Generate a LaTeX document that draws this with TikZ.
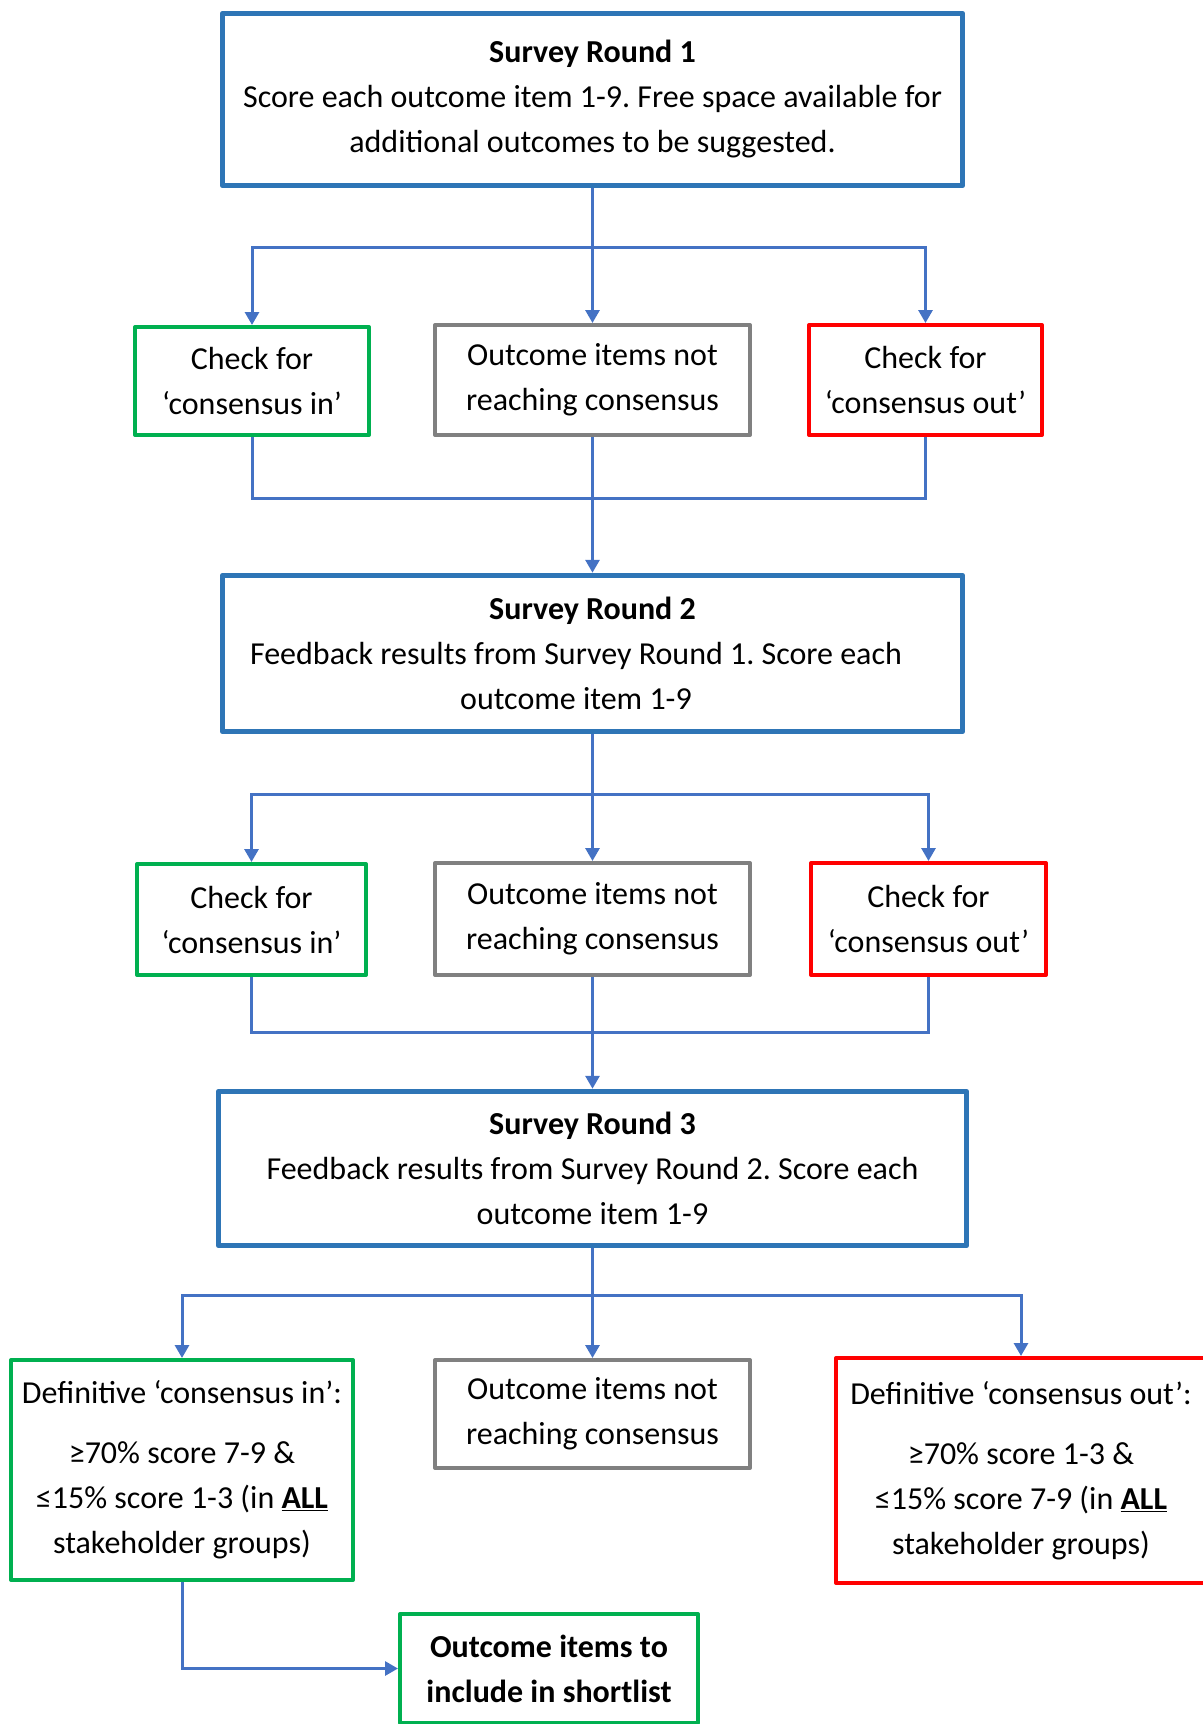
\documentclass[tikz,border=0pt]{standalone}
\usepackage{fontspec}
\setmainfont{Carlito}
\usetikzlibrary{arrows.meta}
\definecolor{roundblue}{HTML}{2E75B6}
\definecolor{connblue}{HTML}{4472C4}
\definecolor{okgreen}{HTML}{00B050}
\definecolor{nored}{HTML}{FF0000}
\definecolor{midgray}{HTML}{808080}
\frenchspacing
\tikzset{
  base/.style={rectangle, fill=white, inner sep=0pt, align=center,
    font=\fontsize{32}{45}\selectfont, line join=round},
  roundbox/.style={base, draw=roundblue, line width=5.5pt},
  inbox/.style={base, draw=okgreen, line width=4pt},
  outbox/.style={base, draw=nored, line width=4pt},
  neutralbox/.style={base, draw=midgray, line width=4pt},
  conn/.style={draw=connblue, line width=3pt},
  arr/.style={conn, -{Triangle[length=13pt,width=14pt]}},
}
\begin{document}
\begin{tikzpicture}[x=1pt,y=-1pt]
\useasboundingbox (0,0) rectangle (1202,1724);
% Round 1
\node[roundbox, minimum width=740pt, minimum height=172pt] (r1) at (592.5,99.5)
  {\textbf{Survey Round 1}\\Score each outcome item 1-9. Free space available for\\additional outcomes to be suggested.};
\node[inbox, minimum width=234pt, minimum height=108pt] (a1) at (252,381)
  {Check for\\‘consensus in’};
\node[neutralbox, minimum width=315pt, minimum height=110pt] (b1) at (592.5,380)
  {Outcome items not\\reaching consensus};
\node[outbox, minimum width=233pt, minimum height=110pt] (c1) at (925.5,380)
  {Check for\\‘consensus out’};
% Round 2
\node[roundbox, minimum width=740pt, minimum height=156pt] (r2) at (592.5,653.5)
  {\textbf{Survey Round 2}\\\mbox{Feedback results from Survey Round 1. Score each\kern33pt}\\\mbox{outcome item 1-9\kern33pt}};
\node[inbox, minimum width=229pt, minimum height=111pt] (a2) at (251.5,919.5)
  {Check for\\‘consensus in’};
\node[neutralbox, minimum width=315pt, minimum height=112pt] (b2) at (592.5,919)
  {Outcome items not\\reaching consensus};
\node[outbox, minimum width=235pt, minimum height=112pt] (c2) at (928.5,919)
  {Check for\\‘consensus out’};
% Round 3
\node[roundbox, minimum width=748pt, minimum height=154pt] (r3) at (592.5,1168.5)
  {\textbf{Survey Round 3}\\Feedback results from Survey Round 2. Score each\\outcome item 1-9};
\node[inbox, minimum width=342pt, minimum height=220pt] (a3) at (182,1470)
  {Definitive ‘consensus in’:\\[15pt]≥70\% score 7-9 \&\\≤15\% score 1-3 (in \underline{\textbf{ALL}}\\stakeholder groups)};
\node[neutralbox, minimum width=315pt, minimum height=108pt] (b3) at (592.5,1414)
  {Outcome items not\\reaching consensus};
\node[outbox, minimum width=370pt, minimum height=225pt] (c3) at (1021,1470.5)
  {Definitive ‘consensus out’:\\[15pt]≥70\% score 1-3 \&\\≤15\% score 7-9 (in \underline{\textbf{ALL}}\\stakeholder groups)};
\node[inbox, minimum width=298pt, minimum height=109pt] (d) at (549,1668.5)
  {\textbf{Outcome items to}\\\textbf{include in shortlist}};
% split/merge points
\coordinate (s1) at (592.5,247);
\coordinate (m1) at (592.5,498);
\coordinate (s2) at (592.5,794);
\coordinate (m2) at (592.5,1032);
\coordinate (s3) at (592.5,1295);
% connectors round 1
\draw[conn] (r1.south) -- (s1);
\draw[arr] (s1) -| (a1.north);
\draw[arr] (s1) -- (b1.north);
\draw[arr] (s1) -| (c1.north);
\draw[conn] (a1.south) |- (m1) -| (c1.south);
\draw[arr] (b1.south) -- (r2.north);
% connectors round 2
\draw[conn] (r2.south) -- (s2);
\draw[arr] (s2) -| (a2.north);
\draw[arr] (s2) -- (b2.north);
\draw[arr] (s2) -| (c2.north);
\draw[conn] (a2.south) |- (m2) -| (c2.south);
\draw[arr] (b2.south) -- (r3.north);
% connectors round 3
\draw[conn] (r3.south) -- (s3);
\draw[arr] (s3) -| (a3.north);
\draw[arr] (s3) -- (b3.north);
\draw[arr] (s3) -| (c3.north);
\draw[arr] (a3.south) |- (d.west);
\end{tikzpicture}
\end{document}
